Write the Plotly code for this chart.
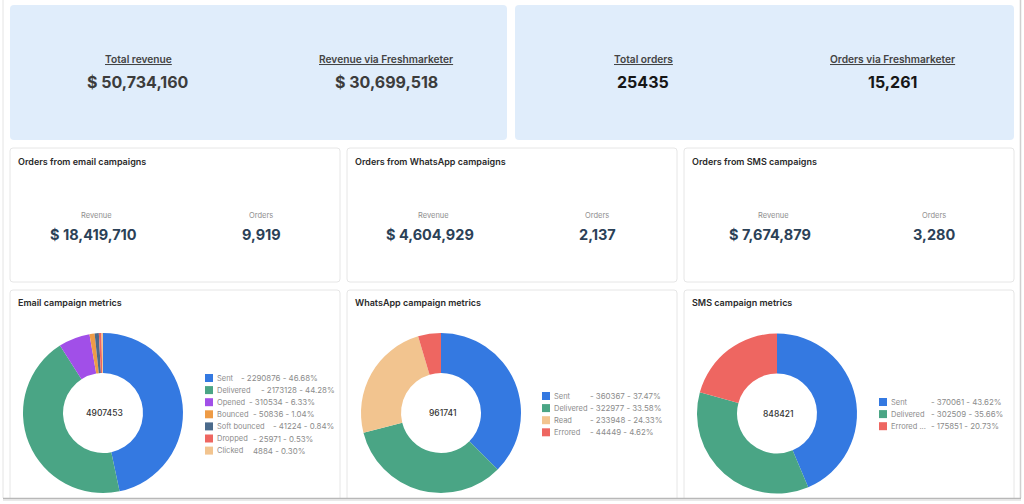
import plotly.graph_objects as go

W, H = 1024, 504

# ---------------- data ----------------
kpi_titles = ["Total revenue", "Revenue via Freshmarketer", "Total orders", "Orders via Freshmarketer"]
kpi_values = ["$ 50,734,160", "$ 30,699,518", "25435", "15,261"]

channel_titles = ["Orders from email campaigns", "Orders from WhatsApp campaigns", "Orders from SMS campaigns"]
channel_revenue = ["$ 18,419,710", "$ 4,604,929", "$ 7,674,879"]
channel_orders = ["9,919", "2,137", "3,280"]

chart_titles = ["Email campaign metrics", "WhatsApp campaign metrics", "SMS campaign metrics"]

email_labels = ["Sent", "Delivered", "Opened", "Bounced", "Soft bounced", "Dropped", "Clicked"]
email_values = [2290876, 2173128, 310534, 50836, 41224, 25971, 14884]
email_legend_text = ["- 2290876 - 46.68%", "- 2173128 - 44.28%", "- 310534 - 6.33%", "- 50836 - 1.04%",
                     "- 41224 - 0.84%", "- 25971 - 0.53%", "4884 - 0.30%"]
email_total = "4907453"

wa_labels = ["Sent", "Delivered", "Read", "Errored"]
wa_values = [360367, 322977, 233948, 44449]
wa_legend_text = ["- 360367 - 37.47%", "- 322977 - 33.58%", "- 233948 - 24.33%", "- 44449 - 4.62%"]
wa_total = "961741"

sms_labels = ["Sent", "Delivered", "Errored ..."]
sms_values = [370061, 302509, 175851]
sms_legend_text = ["- 370061 - 43.62%", "- 302509 - 35.66%", "- 175851 - 20.73%"]
sms_total = "848421"

# ---------------- styles ----------------
BLUE = "#3479E1"
GREEN = "#4AA585"
PURPLE = "#A14FE8"
ORANGE = "#EE9B45"
SLATE = "#4B6A8B"
RED = "#EE6661"
PEACH = "#F2C48F"
email_colors = [BLUE, GREEN, PURPLE, ORANGE, SLATE, RED, PEACH]
wa_colors = [BLUE, GREEN, PEACH, RED]
sms_colors = [BLUE, GREEN, RED]

FONT = "Inter, Roboto, sans-serif"


def px(x):
    return x / W


def py(y):
    return 1 - y / H


shapes = []
annotations = []


def rrect(x0, y0, x1, y1, r, fill, line=None, lw=1):
    rx, ry = r / W, r / H
    X0, X1 = px(x0), px(x1)
    Y0, Y1 = py(y0), py(y1)
    path = (f"M {X0+rx},{Y0} L {X1-rx},{Y0} Q {X1},{Y0} {X1},{Y0-ry} "
            f"L {X1},{Y1+ry} Q {X1},{Y1} {X1-rx},{Y1} L {X0+rx},{Y1} "
            f"Q {X0},{Y1} {X0},{Y1+ry} L {X0},{Y0-ry} Q {X0},{Y0} {X0+rx},{Y0} Z")
    shapes.append(dict(type="path", path=path, xref="paper", yref="paper",
                       fillcolor=fill, line=dict(color=line or fill, width=lw if line else 0),
                       layer="below"))


def text(x, y, s, size, color, weight=400, xanchor="center"):
    annotations.append(dict(x=px(x), y=py(y), xref="paper", yref="paper", text=s,
                            showarrow=False, xanchor=xanchor, yanchor="middle",
                            font=dict(family=FONT, size=size, color=color, weight=weight)))


# page frame
shapes.append(dict(type="line", xref="paper", yref="paper", x0=px(3), x1=px(3), y0=py(0), y1=py(498),
                   line=dict(color="#e4e4e4", width=1)))
shapes.append(dict(type="line", xref="paper", yref="paper", x0=px(1020.5), x1=px(1020.5), y0=py(0), y1=py(498),
                   line=dict(color="#d0d0d0", width=1.5)))

# KPI cards
rrect(10, 5, 507, 140, 4, "#E0EDFB")
rrect(515, 5, 1014, 140, 4, "#E0EDFB")
kpi_x = [138, 386, 643, 892]
kpi_colors = ["#3c3c3c", "#3c3c3c", "#161616", "#161616"]
for i in range(4):
    text(kpi_x[i], 59, f"<u>{kpi_titles[i]}</u>", 10.2, "#444444", 600)
    text(kpi_x[i], 82, kpi_values[i], 16, kpi_colors[i], 700)

# channel cards
card_x = [(10, 340), (347, 677), (684, 1014)]
rev_x = [93, 430, 770]
ord_x = [261, 597, 934]
for i, (a, b) in enumerate(card_x):
    rrect(a, 148, b, 282, 3, "#ffffff", "#e6e6e6", 1)
    text(a + 6, 161, channel_titles[i], 9, "#2a2a2a", 600, "left")
    text(rev_x[i] + 3, 215, "Revenue", 7.5, "#8f8f8f")
    text(ord_x[i], 215, "Orders", 7.5, "#8f8f8f")
    text(rev_x[i], 234, channel_revenue[i], 14.5, "#2B4157", 700)
    text(ord_x[i], 234, channel_orders[i], 14.5, "#2B4157", 700)

# chart cards
for i, (a, b) in enumerate(card_x):
    rrect(a, 290, b, 520, 3, "#ffffff", "#e6e6e6", 1)
    text(a + 6, 302, chart_titles[i], 9, "#2a2a2a", 600, "left")

# bottom frame edge
shapes.append(dict(type="rect", xref="paper", yref="paper", x0=px(0), x1=px(1024), y0=py(504), y1=py(499),
                   fillcolor="#ffffff", line=dict(width=0), layer="above"))
shapes.append(dict(type="line", xref="paper", yref="paper", x0=px(3), x1=px(1021), y0=py(498.5), y1=py(498.5),
                   line=dict(color="#b8b8b8", width=1.5), layer="above"))
shapes.append(dict(type="line", xref="paper", yref="paper", x0=px(3), x1=px(1021), y0=py(500), y1=py(500),
                   line=dict(color="#e2e2e2", width=1.5), layer="above"))

fig = go.Figure()

donuts = [
    (email_labels, email_values, email_colors, email_legend_text, email_total, 103, 413, 205, 378, None),
    (wa_labels, wa_values, wa_colors, wa_legend_text, wa_total, 441, 413, 542, 396, 36),
    (sms_labels, sms_values, sms_colors, sms_legend_text, sms_total, 777, 413.5, 879, 402, 40),
]
R = 80
for labels, values, colors, ltext, total, cx, cy, lx, ly, col in donuts:
    fig.add_trace(go.Pie(
        labels=labels, values=values, hole=0.5, sort=False, direction="clockwise", rotation=0,
        marker=dict(colors=colors, line=dict(width=0)), textinfo="none", hoverinfo="label+value+percent",
        showlegend=False,
        domain=dict(x=[px(cx - R), px(cx + R)], y=[py(cy + R), py(cy - R)]),
    ))
    text(cx + 1, cy, total, 8.5, "#333333", 500)
    for k, lab in enumerate(labels):
        yy = ly + k * 12.1
        shapes.append(dict(type="rect", xref="paper", yref="paper", x0=px(lx), x1=px(lx + 8),
                           y0=py(yy + 4), y1=py(yy - 4), fillcolor=colors[k], line=dict(width=0)))
        nx = lx + 10
        text(nx, yy, lab, 7.5, "#8c8c8c", 400, "left")
        if col is None:
            vx = nx + len(lab) * 4.0 + 8
        else:
            vx = nx + col
        text(vx, yy, ltext[k], 7.9, "#8c8c8c", 400, "left")

fig.update_layout(
    width=W, height=H, margin=dict(l=0, r=0, t=0, b=0),
    paper_bgcolor="#ffffff", plot_bgcolor="#ffffff",
    shapes=shapes, annotations=annotations, showlegend=False,
    font=dict(family=FONT),
)
fig.write_html("out.html")
